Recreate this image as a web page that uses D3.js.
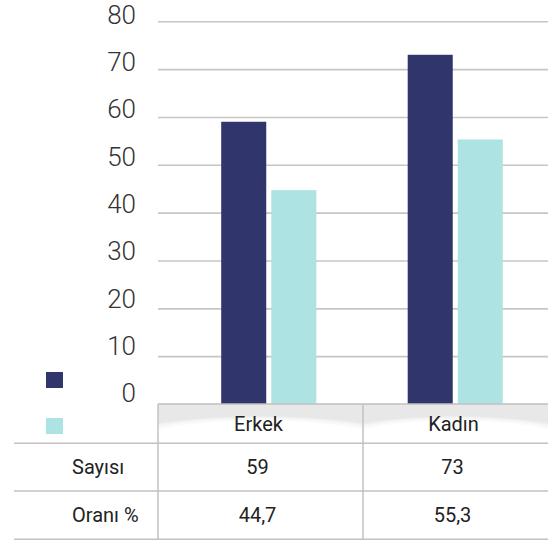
<!DOCTYPE html>
<html>
<head>
<meta charset="utf-8">
<script src="https://cdn.jsdelivr.net/npm/d3@7"></script>
<style>
  html, body { margin: 0; padding: 0; background: #fff; }
  svg { display: block; }
</style>
</head>
<body>
<svg id="chart" width="548" height="540"></svg>
<script>
// Gender breakdown: count and share
const categories = ["Erkek", "Kadın"];
const sayisi = [59, 73];
const orani = [44.7, 55.3];
const rowLabels = ["Sayısı", "Oranı %"];
const yTicks = [0, 10, 20, 30, 40, 50, 60, 70, 80];

const series = [
  { key: "sayisi", values: sayisi, color: "#30366c" },
  { key: "orani", values: orani, color: "#ade3e2" }
];

const W = 548, H = 540;
const plot = { left: 158, right: 548, top: 21.3, bottom: 404 };
const table = { left: 14, col1: 158, col2: 363, right: 548, rows: [404, 443.3, 491, 539.3] };

const svg = d3.select("#chart");
const defs = svg.append("defs");

const y = d3.scaleLinear().domain([0, 80]).range([plot.bottom, plot.top]);
// tick labels sit on a slightly tighter baseline scale than the gridlines
const yLabel = d3.scaleLinear().domain([0, 80]).range([401.7, 23.3]);

const x0 = d3.scaleBand()
  .domain(categories)
  .range([175.5, 548.5])
  .paddingInner(0.49)
  .paddingOuter(0.245);

const x1 = d3.scaleBand()
  .domain(series.map(s => s.key))
  .range([0, x0.bandwidth()])
  .paddingInner(0.1);

// gridlines + tick labels
const yAxis = d3.axisLeft(y)
  .tickValues(yTicks)
  .tickSize(plot.right - plot.left)
  .tickPadding(22);

const gy = svg.append("g")
  .attr("transform", `translate(${plot.right},0)`)
  .call(yAxis);
gy.select(".domain").remove();
gy.selectAll(".tick line")
  .attr("stroke", "#c6c6c6")
  .attr("stroke-width", 1.6);
gy.selectAll(".tick text")
  .attr("y", d => yLabel(d) - y(d))
  .attr("dy", 0)
  .attr("fill", "#333")
  .style("font-family", "Roboto, 'Liberation Sans', sans-serif")
  .style("font-weight", 300)
  .style("font-size", "26px");

// header cell shading (soft shadow along the top edge)
const grad = defs.append("radialGradient")
  .attr("id", "hdrShade")
  .attr("cx", "50%").attr("cy", "110%")
  .attr("r", "80%")
  .attr("fx", "50%").attr("fy", "110%");
grad.append("stop").attr("offset", "0.82").attr("stop-color", "#ffffff");
grad.append("stop").attr("offset", "0.94").attr("stop-color", "#f4f4f4");
grad.append("stop").attr("offset", "1").attr("stop-color", "#e8e8e8");

const colBounds = [[table.col1, table.col2], [table.col2, table.right]];
svg.append("g").selectAll("rect")
  .data(colBounds)
  .join("rect")
  .attr("x", d => d[0])
  .attr("y", table.rows[0])
  .attr("width", d => d[1] - d[0])
  .attr("height", table.rows[1] - table.rows[0])
  .attr("fill", "url(#hdrShade)");

// bars
const groups = svg.append("g").selectAll("g")
  .data(categories)
  .join("g")
  .attr("transform", c => `translate(${x0(c)},0)`);

groups.selectAll("rect")
  .data((c, i) => series.map(s => ({ key: s.key, value: s.values[i], color: s.color })))
  .join("rect")
  .attr("x", d => x1(d.key))
  .attr("width", x1.bandwidth())
  .attr("y", d => y(d.value))
  .attr("height", d => y(0) - y(d.value))
  .attr("fill", d => d.color);

// table lines
const lineColor = "#c2c2c2";
const tg = svg.append("g").attr("stroke", lineColor).attr("stroke-width", 1.5);
tg.append("line")
  .attr("x1", table.col1).attr("x2", table.right)
  .attr("y1", table.rows[0]).attr("y2", table.rows[0]);
table.rows.slice(1).forEach(r => {
  tg.append("line")
    .attr("x1", table.left).attr("x2", table.right)
    .attr("y1", r).attr("y2", r);
});
[table.col1, table.col2].forEach(cx => {
  tg.append("line")
    .attr("x1", cx).attr("x2", cx)
    .attr("y1", table.rows[0]).attr("y2", table.rows[3]);
});

// legend swatches
svg.append("g").selectAll("rect")
  .data(series)
  .join("rect")
  .attr("x", 46)
  .attr("y", (d, i) => 372 + i * 46)
  .attr("width", 17)
  .attr("height", 16)
  .attr("fill", d => d.color);

// table text
const fmt = v => String(v).replace(".", ",");
const txt = svg.append("g")
  .attr("fill", "#222")
  .style("font-family", "Roboto, 'Liberation Sans', sans-serif")
  .style("font-size", "20px");

const rowMid = i => (table.rows[i] + table.rows[i + 1]) / 2;
const colMid = j => (colBounds[j][0] + colBounds[j][1]) / 2;

categories.forEach((c, j) => {
  txt.append("text")
    .attr("x", colMid(j) - 2)
    .attr("y", rowMid(0))
    .attr("dy", "0.36em")
    .attr("text-anchor", "middle")
    .text(c);
});

rowLabels.forEach((lbl, i) => {
  txt.append("text")
    .attr("x", 72)
    .attr("y", rowMid(i + 1))
    .attr("dy", "0.36em")
    .text(lbl);
});

[sayisi, orani].forEach((vals, i) => {
  vals.forEach((v, j) => {
    txt.append("text")
      .attr("x", colMid(j) - 3)
      .attr("y", rowMid(i + 1))
      .attr("dy", "0.36em")
      .attr("text-anchor", "middle")
      .text(fmt(v));
  });
});
</script>
</body>
</html>
